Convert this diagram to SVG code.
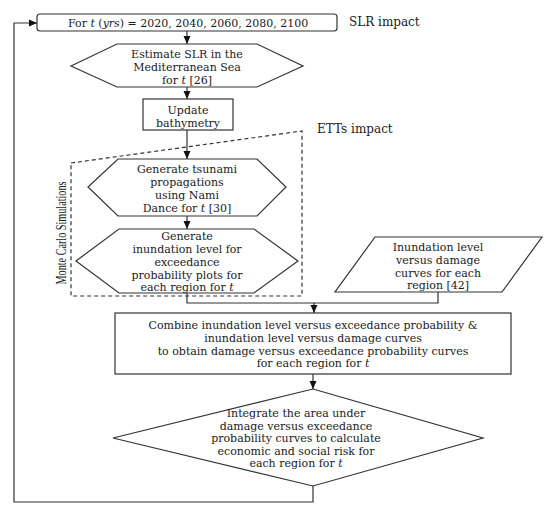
<svg xmlns="http://www.w3.org/2000/svg" width="550" height="510" viewBox="0 0 550 510">
<defs>
<style>
.shape{fill:#fff;stroke:#333;stroke-width:1.2}
.line{fill:none;stroke:#333;stroke-width:1.2}
.dash{fill:none;stroke:#333;stroke-width:1.2;stroke-dasharray:4 3}
text{font-family:"DejaVu Serif","Liberation Serif",serif;font-size:11px;fill:#1a1a1a}
.c{text-anchor:middle}
.lbl{font-size:12px}
.mc{font-family:"Liberation Serif","Times New Roman",serif;font-size:14px}
.i{font-style:italic}
</style>
<marker id="arr" viewBox="0 0 8 8" refX="8" refY="4" markerWidth="8" markerHeight="8" markerUnits="userSpaceOnUse" orient="auto">
<path d="M0,0.5 L8,4 L0,7.5 Z" fill="#111"/>
</marker>
</defs>
<rect width="550" height="510" fill="#fff"/>
<g id="connectors">
<path class="line" d="M187,31 V44" marker-end="url(#arr)"/>
<path class="line" d="M187,87 V99" marker-end="url(#arr)"/>
<path class="line" d="M187,130 V159" marker-end="url(#arr)"/>
<path class="line" d="M187,216 V229" marker-end="url(#arr)"/>
<path class="line" d="M187,293 V303 H314 V313" marker-end="url(#arr)"/>
<path class="line" d="M438,292 V303 H314"/>
<path class="line" d="M313,374 V389" marker-end="url(#arr)"/>
<path class="line" d="M313,486 V502 H14 V23 H37" marker-end="url(#arr)"/>
</g>
<g id="mc-region">
<polygon class="dash" points="71,163 302,131 302,296 71,296"/>
<text class="mc c" transform="translate(66,233) rotate(-90)" textLength="103" lengthAdjust="spacingAndGlyphs">Monte Carlo Simulations</text>
</g>
<g id="label-slr"><text class="lbl" x="349" y="26">SLR impact</text></g>
<g id="label-etts"><text class="lbl" x="317" y="133">ETTs impact</text></g>
<g id="n-loop">
<rect class="shape" x="37" y="14" width="300" height="17" rx="3"/>
<text x="68" y="26.5">For <tspan class="i">t</tspan> (<tspan class="i">yrs</tspan>) = 2020, 2040, 2060, 2080, 2100</text>
</g>
<g id="n-slr">
<polygon class="shape" points="71,66 117,44 257,44 303,66 257,87 117,87"/>
<text class="c" x="187" y="58">Estimate SLR in the</text>
<text class="c" x="187" y="71">Mediterranean Sea</text>
<text class="c" x="187" y="84">for <tspan class="i">t</tspan> [26]</text>
</g>
<g id="n-bathy">
<rect class="shape" x="143" y="99" width="90" height="31"/>
<text class="c" x="188" y="114">Update</text>
<text class="c" x="188" y="127">bathymetry</text>
</g>
<g id="n-tsunami">
<polygon class="shape" points="88,187 118,159 257,159 286,187 257,216 118,216"/>
<text class="c" x="187" y="173">Generate tsunami</text>
<text class="c" x="187" y="186">propagations</text>
<text class="c" x="187" y="199">using Nami</text>
<text class="c" x="187" y="212">Dance for <tspan class="i">t</tspan> [30]</text>
</g>
<g id="n-inund">
<polygon class="shape" points="76,261 119,229 254,229 298,261 254,293 119,293"/>
<text class="c" x="187" y="240">Generate</text>
<text class="c" x="187" y="253">inundation level for</text>
<text class="c" x="187" y="266">exceedance</text>
<text class="c" x="187" y="279">probability plots for</text>
<text class="c" x="187" y="291">each region for <tspan class="i">t</tspan></text>
</g>
<g id="n-damage-curves">
<polygon class="shape" points="375,237 542,237 502,292 335,292"/>
<text class="c" x="438" y="251">Inundation level</text>
<text class="c" x="438" y="264">versus damage</text>
<text class="c" x="438" y="277">curves for each</text>
<text class="c" x="438" y="289">region [42]</text>
</g>
<g id="n-combine">
<rect class="shape" x="115" y="313" width="396" height="61"/>
<text class="c" x="313" y="329">Combine inundation level versus exceedance probability &amp;</text>
<text class="c" x="313" y="342">inundation level versus damage curves</text>
<text class="c" x="313" y="355">to obtain damage versus exceedance probability curves</text>
<text class="c" x="313" y="367">for each region for <tspan class="i">t</tspan></text>
</g>
<g id="n-integrate">
<polygon class="shape" points="313,389 483,438 313,486 113,438"/>
<text class="c" x="296" y="417">Integrate the area under</text>
<text class="c" x="296" y="430">damage versus exceedance</text>
<text class="c" x="296" y="442">probability curves to calculate</text>
<text class="c" x="296" y="455">economic and social risk for</text>
<text class="c" x="296" y="467">each region for <tspan class="i">t</tspan></text>
</g>
</svg>
